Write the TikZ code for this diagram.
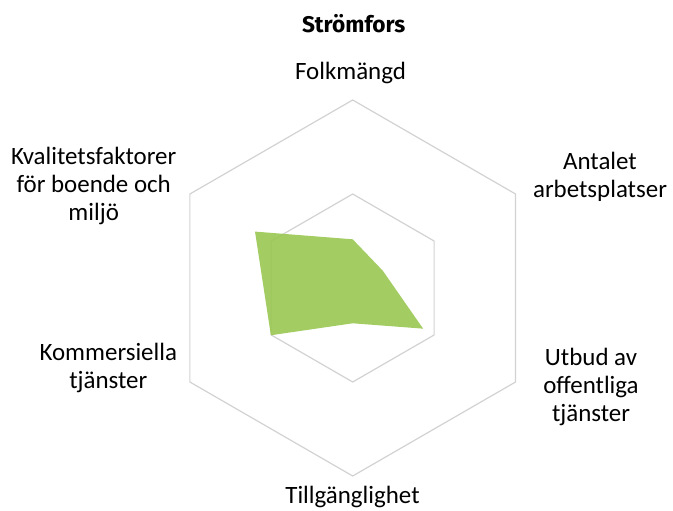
\documentclass[tikz,border=0pt]{standalone}
\usepackage{fontspec}
\setmainfont{Carlito}
\newfontfamily\titlefont{Fira Sans}
\definecolor{gridgray}{RGB}{210,210,210}
\definecolor{fillgreen}{RGB}{155,200,85}
\tikzset{
  axislabel/.style={font=\fontsize{18.7}{21}\selectfont, align=center, anchor=base, inner sep=0pt},
  gridline/.style={draw=gridgray, line width=0.9pt},
}
\begin{document}
\begin{tikzpicture}[x=0.75pt,y=0.75pt]
  \useasboundingbox (-352.7,-222) rectangle (320.3,288);
  % hexagon grid
  \foreach \r in {94,188}
    \draw[gridline] (90:\r)--(30:\r)--(-30:\r)--(-90:\r)--(210:\r)--(150:\r)--cycle;
  % values
  \fill[fillgreen, opacity=0.92] (90:48.7)--(30:34.7)--(-30:81.3)--(-90:35.3)--(210:94.5)--(150:112.8)--cycle;
  % labels (base = last line)
  \node[axislabel, font=\titlefont\bfseries\fontsize{17}{18}\selectfont] (title) at (1,255) {Strömfors};
  \node[axislabel] (folk) at (-2.2,208) {Folkmängd};
  \node[axislabel] (arbete) at (247.3,90) {Antalet\\arbetsplatser};
  \node[axislabel] (offentliga) at (238.3,-133.7) {Utbud av\\offentliga\\tjänster};
  \node[axislabel] (tillgang) at (-0.2,-215.3) {Tillgänglighet};
  \node[axislabel] (kommers) at (-244.4,-100) {Kommersiella\\tjänster};
  \node[axislabel] (kvalitet) at (-259,67.3) {Kvalitetsfaktorer\\för boende och\\miljö};
\end{tikzpicture}
\end{document}
